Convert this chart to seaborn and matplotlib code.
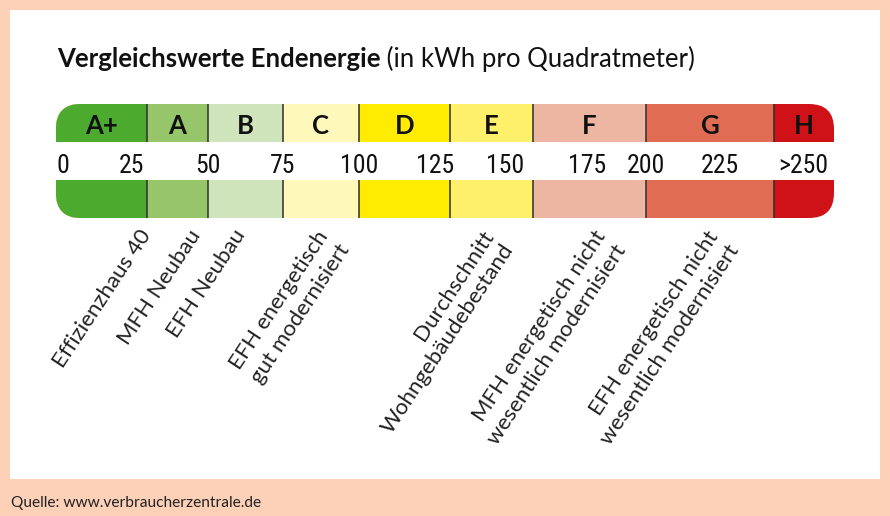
import numpy as np
import pandas as pd
import matplotlib
matplotlib.use("Agg")
import matplotlib.pyplot as plt
import matplotlib.transforms as mtransforms
from matplotlib.patches import FancyBboxPatch, Rectangle
import seaborn as sns

# ---------------- data ----------------
classes = ["A+", "A", "B", "C", "D", "E", "F", "G", "H"]
class_lower = [0, 30, 50, 75, 100, 130, 160, 200, 250]
class_upper = [30, 50, 75, 100, 130, 160, 200, 250, 275]
class_colors = ["#4CAB2F", "#97C56A", "#D0E4BB", "#FEF8BB", "#FFEC00",
                "#FFF06B", "#EDB6A2", "#E06D53", "#CE1217"]
tick_labels = ["0", "25", "50", "75", "100", "125", "150", "175", "200", "225", ">250"]
tick_values = [0, 25, 50, 75, 100, 125, 150, 179, 200, 229, 262]
ref_labels = ["Effizienzhaus 40", "MFH Neubau", "EFH Neubau",
              "EFH energetisch\ngut modernisiert",
              "Durchschnitt\nWohngebäudebestand",
              "MFH energetisch nicht\nwesentlich modernisiert",
              "EFH energetisch nicht\nwesentlich modernisiert"]
ref_values = [31.6, 47.7, 62.7, 95.7, 151.9, 191.9, 235.2]
title_bold = "Vergleichswerte Endenergie"
title_rest = " (in kWh pro Quadratmeter)"
source = "Quelle: www.verbraucherzentrale.de"

# ---------------- layout / style ----------------
W, H = 890, 516
PEACH = "#FDD0B8"
SEP = "#2E2E2E"
seg_px = [91, 61, 75, 76, 91, 83, 113, 128, 60]   # display width per class
BAR_X0, BAR_X1 = 56, 834
ROW_TOP, ROW_BOT = 104, 218   # pixel rows (from top) of the whole scale block
label_base_y = [281, 281, 281, 269, 269, 269, 269]   # figure pixels from bottom

COND = ["Roboto Condensed", "Liberation Sans", "DejaVu Sans"]
HUMAN = ["Lato", "Liberation Sans", "DejaVu Sans"]
LABEL = ["Lato", "Open Sans", "DejaVu Sans"]

sns.set_style("white")
plt.rcParams["font.family"] = HUMAN

fig = plt.figure(figsize=(W / 100, H / 100), dpi=100, facecolor=PEACH)
pix = mtransforms.Affine2D().scale(1 / W, 1 / H) + fig.transFigure

# white panel
fig.patches.append(Rectangle((10, H - 479), 870, 469, transform=pix,
                             facecolor="white", edgecolor="none", zorder=-5))

ax = fig.add_axes([BAR_X0 / W, (H - ROW_BOT) / H, (BAR_X1 - BAR_X0) / W,
                   (ROW_BOT - ROW_TOP) / H])
ax.set_facecolor("none")

df = pd.DataFrame({
    "row": np.repeat(["top", "bottom"], len(classes)),
    "cls": classes * 2,
    "upper": class_upper * 2,
})
sns.barplot(data=df, x="upper", y="row", hue="cls", order=["top", "mid", "bottom"],
            hue_order=classes[::-1], palette=dict(zip(classes, class_colors)),
            dodge=False, width=1.0, linewidth=0, saturation=1, legend=False,
            errorbar=None, orient="y", ax=ax)

# piecewise-linear display scale of the energy classes
edges = np.array(class_lower + [class_upper[-1]], float)
disp = np.concatenate([[0], np.cumsum(seg_px)]).astype(float)
fwd = lambda v: np.interp(v, edges, disp)
inv = lambda p: np.interp(p, disp, edges)
ax.set_xscale("function", functions=(fwd, inv))
ax.set_xlim(edges[0], edges[-1])
ax.set_ylim(2.5, -0.5)
ax.axis("off")

# rounded outer ends
r = 25
clip_top = FancyBboxPatch((BAR_X0, H - (ROW_TOP + 38) - 40), BAR_X1 - BAR_X0, 38 + 40,
                          boxstyle=f"round,pad=0,rounding_size={r}", transform=pix)
clip_bot = FancyBboxPatch((BAR_X0, H - ROW_BOT), BAR_X1 - BAR_X0, 38 + 40,
                          boxstyle=f"round,pad=0,rounding_size={r}", transform=pix)
for p in ax.patches:
    p.set_clip_path(clip_top if p.get_y() < 1 else clip_bot)

ax.vlines(edges[1:-1], -0.5, 0.5, colors=SEP, lw=1.1)
ax.vlines(edges[1:-1], 1.5, 2.5, colors=SEP, lw=1.1)

# class letters
for c, lo, hi in zip(classes, class_lower, class_upper):
    ax.text((lo + hi) / 2, 0.29, c, ha="center", va="baseline", fontsize=18.5,
            fontweight="bold", color="#111111", family=HUMAN)

# scale numbers
for i, (lab, v) in enumerate(zip(tick_labels, tick_values)):
    ax.text(v, 1.316, lab, ha="left" if i == 0 else "center", va="baseline",
            fontsize=18.5, color="#111111", family=COND)

# reference building labels
for lab, v, yb in zip(ref_labels, ref_values, label_base_y):
    ax.annotate(lab, xy=(v, yb), xycoords=("data", "figure pixels"),
                rotation=56.5, rotation_mode="anchor", ha="right", va="baseline",
                multialignment="right", linespacing=1.3, fontsize=16,
                fontweight="normal", family=LABEL, color="#222222",
                annotation_clip=False)

# title
t1 = fig.text(57, H - 67, title_bold, transform=pix, fontsize=18.5,
              fontweight="bold", va="baseline", ha="left", color="#111111")
fig.canvas.draw()
bb = t1.get_window_extent()
fig.text(bb.x1, H - 67, title_rest, transform=pix, fontsize=18.5,
         va="baseline", ha="left", color="#111111")

# source
fig.text(11, H - 507, source, transform=pix, fontsize=11.2, va="baseline",
         ha="left", color="#222222", family=LABEL)

fig.savefig("out.png", dpi=100, facecolor=PEACH)
